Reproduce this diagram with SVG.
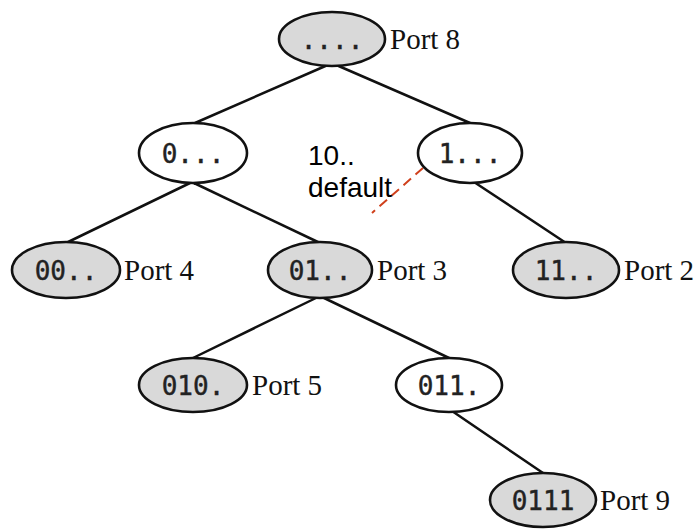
<svg xmlns="http://www.w3.org/2000/svg" width="700" height="531" viewBox="0 0 700 531">
<style>
.e{stroke:#111;stroke-width:2.5;fill:none;stroke-linecap:round}
.n{stroke:#111;stroke-width:2.6}
.g{fill:#d9d9d9}
.w{fill:#fff}
.m{font-family:"DejaVu Sans Mono",monospace;font-size:26px;fill:#222;stroke:#222;stroke-width:0.4;text-anchor:middle}
.p{font-family:"Liberation Serif",serif;font-size:29px;fill:#111}
.s{font-family:"Liberation Sans",sans-serif;font-size:28px;fill:#000}
</style>
<rect width="700" height="531" fill="#fff"/>
<g id="connectors">
<line class="e" x1="330" y1="64" x2="195" y2="123"/>
<line class="e" x1="334" y1="64" x2="470" y2="123"/>
<line class="e" x1="190" y1="183" x2="66" y2="243"/>
<line class="e" x1="194" y1="183" x2="320" y2="243"/>
<line class="e" x1="474" y1="182" x2="566" y2="243"/>
<line class="e" x1="318" y1="297" x2="193" y2="358"/>
<line class="e" x1="322" y1="297" x2="449" y2="358"/>
<line class="e" x1="452" y1="411" x2="543" y2="473"/>
<line x1="423" y1="168" x2="372" y2="213" stroke="#d0401c" stroke-width="2" stroke-dasharray="10,6"/>
</g>
<g id="root"><ellipse class="n g" cx="332" cy="39" rx="53" ry="27"/><text class="m" x="332" y="49">....</text><text class="p" x="390" y="49">Port 8</text></g>
<g id="n0"><ellipse class="n w" cx="193" cy="153" rx="54" ry="30"/><text class="m" x="193" y="163">0...</text></g>
<g id="n1"><ellipse class="n w" cx="470" cy="153" rx="52" ry="30"/><text class="m" x="470" y="163">1...</text></g>
<g id="default"><text class="s" x="308" y="165">10..</text><text class="s" x="308" y="197">default</text></g>
<g id="n00"><ellipse class="n g" cx="66" cy="270" rx="54" ry="28"/><text class="m" x="66" y="280">00..</text><text class="p" x="124" y="280">Port 4</text></g>
<g id="n01"><ellipse class="n g" cx="320" cy="270" rx="52" ry="28"/><text class="m" x="320" y="280">01..</text><text class="p" x="377" y="280">Port 3</text></g>
<g id="n11"><ellipse class="n g" cx="566" cy="270" rx="53" ry="28"/><text class="m" x="566" y="280">11..</text><text class="p" x="624" y="280">Port 2</text></g>
<g id="n010"><ellipse class="n g" cx="193" cy="385" rx="54" ry="27"/><text class="m" x="193" y="395">010.</text><text class="p" x="252" y="395">Port 5</text></g>
<g id="n011"><ellipse class="n w" cx="449" cy="385" rx="53" ry="27"/><text class="m" x="449" y="395">011.</text></g>
<g id="n0111"><ellipse class="n g" cx="543" cy="500" rx="53" ry="27"/><text class="m" x="543" y="510">0111</text><text class="p" x="600" y="510">Port 9</text></g>
</svg>
